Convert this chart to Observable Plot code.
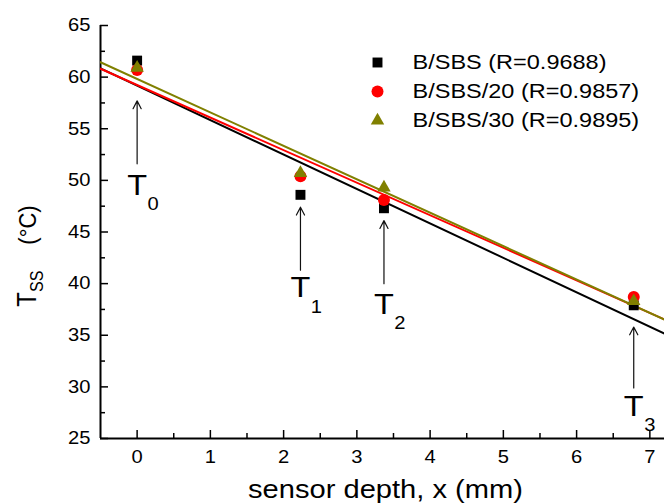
<!DOCTYPE html>
<html><head><meta charset="utf-8">
<script src="https://cdn.jsdelivr.net/npm/d3@7"></script>
<script src="https://cdn.jsdelivr.net/npm/@observablehq/plot@0.6"></script>
<style>
body{margin:0;background:#fff}
svg{font-family:"Liberation Sans",Arial,sans-serif}
</style>
</head><body><div id="chart"></div>
<script>
// ---- data ----
const depth = [0, 2.23, 3.37, 6.78];
const seriesNames = ["B/SBS (R=0.9688)", "B/SBS/20 (R=0.9857)", "B/SBS/30 (R=0.9895)"];
const bsbs   = [61.6, 48.6, 47.3, 37.9];
const bsbs20 = [60.7, 50.4, 48.1, 38.7];
const bsbs30 = [60.9, 50.7, 49.3, 38.3];
const colors = ["#000000", "#ff0000", "#808000"];
const symbols = ["square", "circle", "triangle"];
const xDomain = [-0.5, 7.2];
const yDomain = [25, 65];
const xMajor = [0, 1, 2, 3, 4, 5, 6, 7];
const xMinor = [0.5, 1.5, 2.5, 3.5, 4.5, 5.5, 6.5];
const yMajor = [25, 30, 35, 40, 45, 50, 55, 60, 65];
const yMinor = [27.5, 32.5, 37.5, 42.5, 47.5, 52.5, 57.5, 62.5];
const annotX = [0, 2.23, 3.37, 6.78];
const arrowTip = [57.7, 47.4, 46.1, 35.8];
const arrowTail = [51.6, 41.3, 40.0, 29.9];
const labelY = [49.5, 39.6, 38.0, 28.1];
const labelSub = ["0", "1", "2", "3"];

// ---- build tables ----
const seriesValues = [bsbs, bsbs20, bsbs30];
const points = seriesValues.map((vals, s) => depth.map((x, i) => ({x, y: vals[i], s})));
function fit(vals) {
  const mx = d3.mean(depth), my = d3.mean(vals);
  const b = d3.sum(depth, (x, i) => (x - mx) * (vals[i] - my)) / d3.sum(depth, x => (x - mx) ** 2);
  const a = my - b * mx;
  return xDomain.map(x => ({x, y: a + b * x}));
}
const fits = seriesValues.map(fit);
const annots = annotX.map((x, i) => ({x, tip: arrowTip[i], tail: arrowTail[i], ly: labelY[i], sub: labelSub[i]}));
const symR = {square: 5.6, circle: 6, triangle: 5};

const marks = [
  Plot.ruleX([xDomain[0]], {strokeWidth: 2}),
  Plot.ruleY([yDomain[0]], {strokeWidth: 2}),
  Plot.axisY(yMajor, {anchor: "left", tickSize: -8, tickFormat: () => "", strokeWidth: 1.5, label: null}),
  Plot.axisY(yMinor, {anchor: "left", tickSize: -5, tickFormat: () => "", strokeWidth: 1.5, label: null}),
  Plot.axisY(yMajor, {anchor: "left", tickSize: 0, tickPadding: 10, fontSize: 18, label: null}),
  Plot.axisX(xMajor, {anchor: "bottom", tickSize: -8, tickFormat: () => "", strokeWidth: 1.5, label: null}),
  Plot.axisX(xMinor, {anchor: "bottom", tickSize: -5, tickFormat: () => "", strokeWidth: 1.5, label: null}),
  Plot.axisX(xMajor, {anchor: "bottom", tickSize: 0, tickPadding: 12, fontSize: 18, label: null}),
];
fits.forEach((f, s) => marks.push(Plot.line(f, {x: "x", y: "y", stroke: colors[s], strokeWidth: 2, clip: true})));
points.forEach((p, s) => marks.push(Plot.dot(p, {x: "x", y: "y", symbol: symbols[s], fill: colors[s], r: symR[symbols[s]]})));
marks.push(
  Plot.arrow(annots, {x1: "x", y1: "tail", x2: "x", y2: "tip", stroke: "#111", strokeWidth: 1.2, headLength: 11, headAngle: 55}),
  Plot.text(annots, {x: "x", y: "ly", text: () => "T", fontSize: 29, lineAnchor: "middle"}),
  Plot.text(annots, {x: "x", y: "ly", text: "sub", fontSize: 18, dx: 16, dy: 19, lineAnchor: "middle"})
);
seriesNames.forEach((name, s) => {
  marks.push(
    Plot.dot([name], {frameAnchor: "top-left", dx: 277, dy: 37 + 29 * s, symbol: symbols[s], fill: colors[s], r: symR[symbols[s]]}),
    Plot.text([name], {frameAnchor: "top-left", dx: 312, dy: 37 + 29 * s, text: d => d, textAnchor: "start", lineAnchor: "middle", fontSize: 21})
  );
});
marks.push(
  Plot.text(["sensor depth, x (mm)"], {frameAnchor: "bottom", dx: 3, dy: 59, text: d => d, lineAnchor: "bottom", fontSize: 26}),
  Plot.text(["YTITLE"], {frameAnchor: "left", dx: -65, dy: 24, rotate: -90, text: d => d, textAnchor: "middle", lineAnchor: "bottom", fontSize: 24})
);

const chart = Plot.plot({
  width: 664, height: 504,
  marginLeft: 100, marginRight: 0, marginTop: 25, marginBottom: 66,
  style: {fontFamily: '"Liberation Sans", Arial, sans-serif', color: "black", background: "white", overflow: "visible"},
  x: {domain: xDomain},
  y: {domain: yDomain},
  marks
});
document.getElementById("chart").appendChild(chart);

// y title with subscript
chart.querySelectorAll("text").forEach(t => {
  if (t.textContent === "YTITLE") {
    t.textContent = "";
    const ns = "http://www.w3.org/2000/svg";
    const a = document.createElementNS(ns, "tspan"); a.textContent = "T"; a.setAttribute("font-size", "24");
    const b = document.createElementNS(ns, "tspan"); b.textContent = "SS"; b.setAttribute("font-size", "16"); b.setAttribute("dy", "7");
    const c = document.createElementNS(ns, "tspan"); c.textContent = "(°C)"; c.setAttribute("font-size", "22"); c.setAttribute("dy", "-7"); c.setAttribute("dx", "26");
    t.append(a, b, c);
  }
});
// horizontal widening of glyphs (reference text is slightly stretched)
chart.querySelectorAll("text").forEach(t => {
  const tr = t.getAttribute("transform");
  if (!tr) return;
  const rotated = /rotate/.test(tr);
  t.setAttribute("transform", tr + (rotated ? " scale(1,1.12)" : " scale(1.12,1)"));
});
</script></body></html>
